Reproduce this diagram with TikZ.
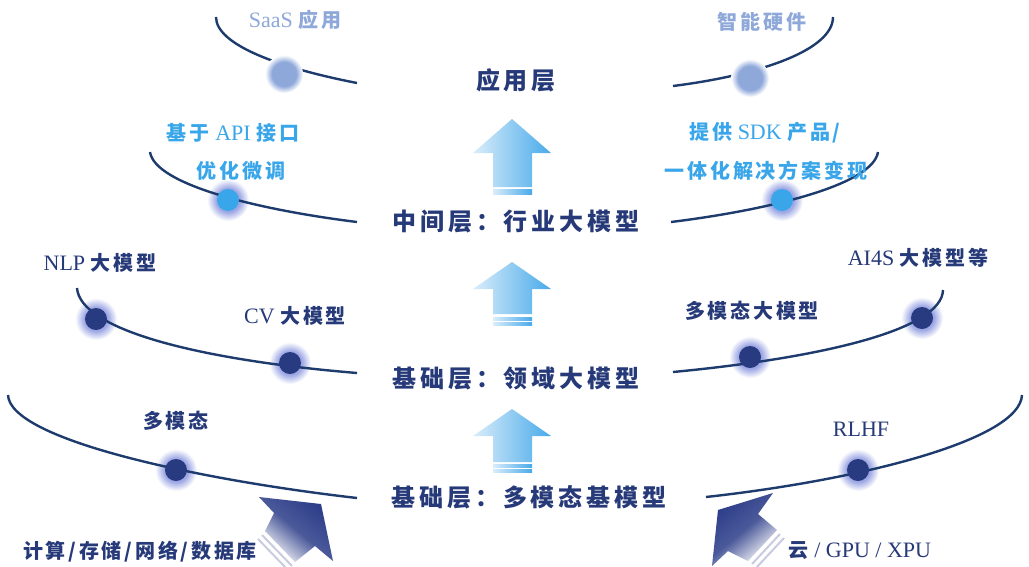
\documentclass[tikz,border=0pt]{standalone}
\usepackage{fontspec}
\setmainfont{Liberation Serif}
\newfontfamily\cjk{Noto Sans CJK SC}[LetterSpace=14]
\newfontfamily\cjkt{Noto Sans CJK SC}[LetterSpace=16]
\definecolor{navy}{HTML}{263978}
\definecolor{curvec}{HTML}{1D3B6C}
\definecolor{dotc}{HTML}{283A80}
\definecolor{haloc}{HTML}{9CA6E4}
\definecolor{topc}{HTML}{8EA8DA}
\definecolor{skyc}{HTML}{3AA6EA}
\definecolor{arlight}{HTML}{DAEDFA}
\definecolor{ardark}{HTML}{48AAEA}
\definecolor{bigar}{HTML}{2B3C88}
\definecolor{stripec}{HTML}{C9CCE0}
\pgfdeclareradialshading{halo}{\pgfpoint{0bp}{0bp}}{color(0bp)=(haloc);color(14bp)=(haloc);color(25bp)=(white);color(50bp)=(white)}
\pgfdeclareradialshading{fuzzy}{\pgfpoint{0bp}{0bp}}{color(0bp)=(topc);color(16bp)=(topc);color(25bp)=(white);color(50bp)=(white)}
\tikzset{
  curve/.style={draw=curvec, line width=2.4pt},
  lbl/.style={text=navy, inner sep=0pt, font=\fontsize{22}{24}\selectfont},
  ttl/.style={text=navy, inner sep=0pt, font=\fontsize{24}{26}\selectfont\bfseries},
  toplbl/.style={lbl, text=topc},
  skylbl/.style={lbl, text=skyc},
  blue arrow/.style={left color=arlight, right color=ardark},
  dark arrow/.style={top color=bigar, bottom color=white, middle color=bigar!85!white},
}
\newcommand{\halo}[1]{\shade[shading=halo] #1 circle[radius=21];}
\newcommand{\fuzzy}[1]{\shade[shading=fuzzy] #1 circle[radius=19];}
\newcommand{\zh}[1]{{\cjk\fontsize{20}{22}\selectfont\bfseries #1}}
\begin{document}
\begin{tikzpicture}[x=1pt,y=-1pt]
\useasboundingbox[fill=white] (0,0) rectangle (1029,566);
% halos
\halo{(96,319)}
\halo{(290,363)}
\halo{(750,357)}
\halo{(922,318)}
\halo{(176,470)}
\halo{(858,470)}
\halo{(228,200)}
\halo{(782,200)}
% curves
\draw[curve] (216,17) .. controls (216,45) and (280,68) .. (357,83);
\draw[curve] (673,86) .. controls (760,75) and (833,50) .. (833,17);
\draw[curve] (150,152) .. controls (155,185) and (260,210) .. (357,222);
\draw[curve] (671,222) .. controls (768,210) and (873,185) .. (878,152);
\draw[curve] (77,288) .. controls (80,330) and (200,360) .. (357,373);
\draw[curve] (673,372) .. controls (820,358) and (942,330) .. (943,290);
\draw[curve] (8,395) .. controls (10,440) and (200,480) .. (357,498);
\draw[curve] (706,497) .. controls (860,480) and (1020,440) .. (1022,395);
% dots
\fill[dotc] (96,319) circle[radius=11];
\fill[dotc] (290,363) circle[radius=11];
\fill[dotc] (750,357) circle[radius=11];
\fill[dotc] (922,318) circle[radius=11];
\fill[dotc] (176,470) circle[radius=11];
\fill[dotc] (858,470) circle[radius=11];
\fill[skyc] (228,200) circle[radius=11];
\fill[skyc] (782,200) circle[radius=11];
\fuzzy{(284,74)}
\fuzzy{(750,78)}
% light blue arrows
\shade[blue arrow] (512,119) -- (551,153) -- (532,153) -- (532,187) -- (493,187) -- (493,153) -- (473,153) -- cycle;
\shade[blue arrow] (493,189) rectangle (532,194);
\shade[blue arrow] (512,262) -- (551,289) -- (532,289) -- (532,314) -- (493,314) -- (493,289) -- (473,289) -- cycle;
\shade[blue arrow] (493,317) rectangle (532,320);
\shade[blue arrow] (493,322) rectangle (532,325);
\shade[blue arrow] (512,409) -- (551,436) -- (532,436) -- (532,462) -- (493,462) -- (493,436) -- (473,436) -- cycle;
\shade[blue arrow] (493,464) rectangle (532,467);
\shade[blue arrow] (493,469) rectangle (532,472);
% big dark arrows
\shade[dark arrow, shading angle=-40] (321,504) -- (259,497) -- (274,513) -- (265,531) -- (295,562) -- (315,546) -- (333,561) -- cycle;
\draw[stripec, line width=2pt] (262,535) -- (292,566);
\draw[stripec, line width=2pt] (258,539) -- (287,569);
\shade[dark arrow, shading angle=40] (718,510) -- (773,493) -- (758,514) -- (777,530) -- (748,561) -- (728,551) -- (712,566) -- cycle;
\draw[stripec, line width=2pt] (780,534) -- (752,564);
\draw[stripec, line width=2pt] (784,538) -- (756,568);
% texts
\node[toplbl] (saas) at (295,20) {SaaS \zh{应用}};
\node[toplbl] (hw) at (762,22) {\zh{智能硬件}};
\node[ttl] (app) at (516,80) {\cjkt 应用层};
\node[skylbl] (api) at (233,133) {\zh{基于} API \zh{接口}};
\node[skylbl] (tune) at (241,171) {\zh{优化微调}};
\node[skylbl] (sdk) at (765,133) {\zh{提供} SDK \zh{产品/}};
\node[skylbl] (sol) at (766,171) {\zh{一体化解决方案变现}};
\node[ttl] (mid) at (516,222) {\cjkt 中间层：行业大模型};
\node[lbl] (nlp) at (100,263) {NLP \zh{大模型}};
\node[lbl] (cv) at (295,316) {CV \zh{大模型}};
\node[lbl] (mm) at (752,311) {\zh{多模态大模型}};
\node[lbl] (ai4s) at (918,258) {AI4S \zh{大模型等}};
\node[ttl] (dom) at (516,378) {\cjkt 基础层：领域大模型};
\node[lbl] (mmb) at (176,421) {\zh{多模态}};
\node[lbl] (rlhf) at (861,429) {RLHF};
\node[ttl] (base) at (529,497) {\cjkt 基础层：多模态基模型};
\node[lbl] (infra) at (140,552) {\zh{计算/存储/网络/数据库}};
\node[lbl] (cloud) at (860,551) {\zh{云} / GPU / XPU};
\end{tikzpicture}
\end{document}
